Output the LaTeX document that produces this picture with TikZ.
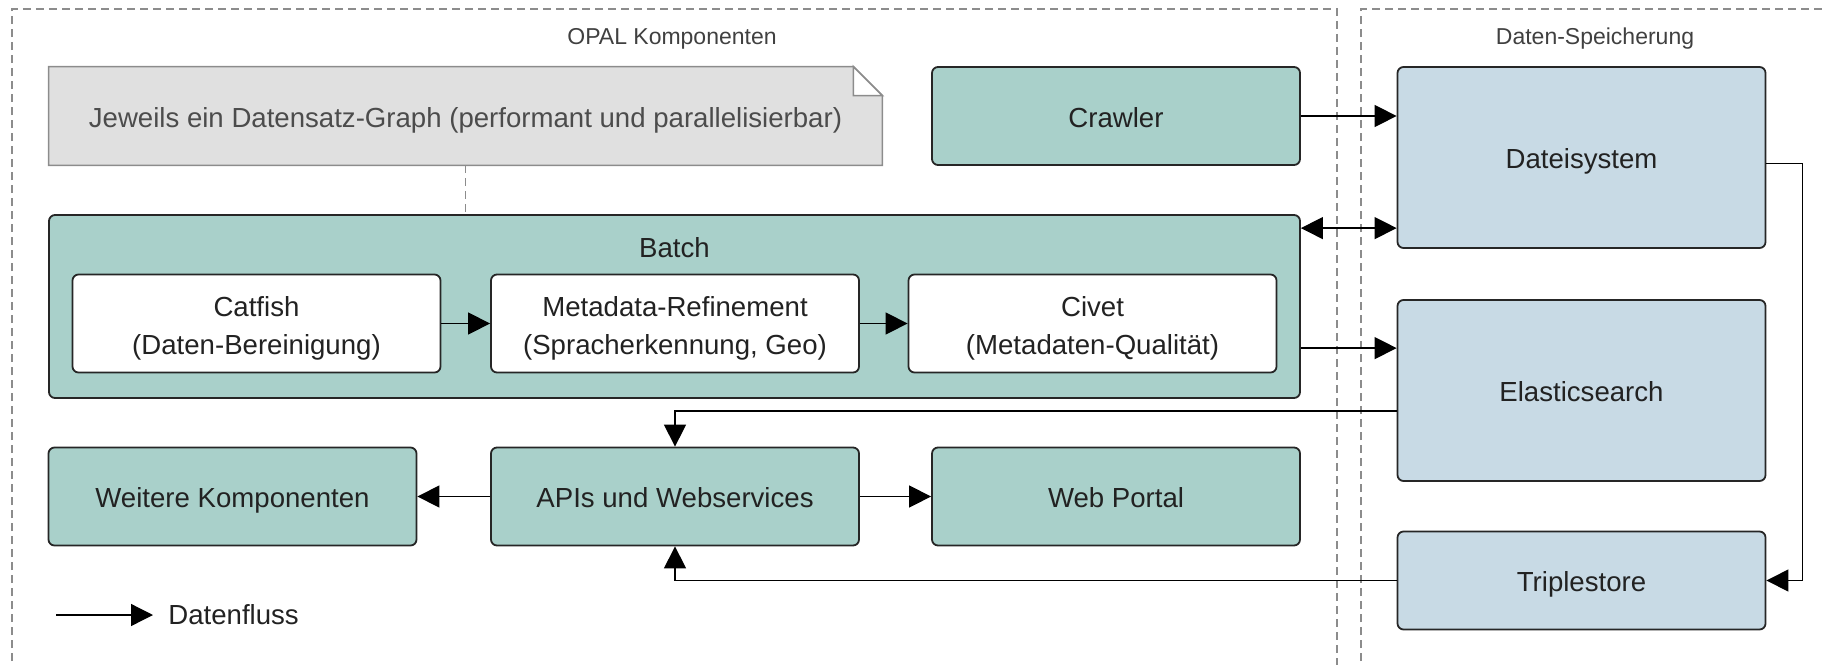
\documentclass[tikz,border=0pt]{standalone}
\usepackage{fontspec}
\setmainfont{Liberation Sans}
\usetikzlibrary{arrows.meta,positioning,calc}
\definecolor{opalgreen}{RGB}{169,208,202}
\definecolor{storeblue}{RGB}{200,218,229}
\definecolor{notegray}{RGB}{224,224,224}
\definecolor{framegray}{RGB}{140,140,140}
\definecolor{textdark}{RGB}{34,34,34}

\begin{document}
\begin{tikzpicture}[x=0.5pt, y=-0.5pt,
    font=\fontsize{13.8}{16.5}\selectfont, text=textdark,
    boxbase/.style={draw=black!85, line width=0.9pt, rounded corners=3pt, minimum width=184pt, minimum height=49pt, align=center},
    comp/.style={boxbase, fill=opalgreen, text height=13pt, text depth=1.6pt},
    store/.style={comp, fill=storeblue},
    sub/.style={boxbase, fill=white, font=\fontsize{13.8}{19}\selectfont, text height=33pt, text depth=1.6pt},
    frame/.style={draw=framegray, line width=0.6pt, dash pattern=on 4pt off 2.5pt},
    title/.style={font=\fontsize{11.5}{14}\selectfont, text=black!75},
    flow/.style={line width=0.65pt, -{Triangle[length=11pt,width=11pt]}}]
    \useasboundingbox (0,0) rectangle (1823,664);

    % Frames
    \draw[frame] (12,700) -- (12,9) -- (1337,9) -- (1337,700);
    \draw[frame] (1361,700) -- (1361,9) -- (1850,9);
    \node[title] (opal) at (672,38.5) {OPAL Komponenten};
    \node[title] (speicher) at (1595,38.5) {Daten-Speicherung};

    % Note
    \node[minimum width=416.5pt, minimum height=49pt] (note) at (465.5,116) {};
    \draw[draw=black!45, line width=0.8pt, fill=notegray] (note.south west) -- (note.north west) -- ($(note.north east)+(-29,0)$) -- ($(note.north east)+(0,29)$) -- (note.south east) -- cycle;
    \draw[draw=black!45, line width=0.8pt, fill=white] ($(note.north east)+(-29,0)$) -- ($(note.north east)+(-29,29)$) -- ($(note.north east)+(0,29)$) -- cycle;
    \node[text=black!70, text height=13pt, text depth=1.6pt] (notetext) at (note) {Jeweils ein Datensatz-Graph (performant und parallelisierbar)};

    % OPAL components
    \node[comp] (crawler) at (1116,116) {Crawler};
    \node[comp, minimum width=625.5pt, minimum height=91.5pt] (batch) at (674.5,306.5) {};
    \node[text height=13pt, text depth=1.6pt] (batchlbl) at (674.5,246) {Batch};
    \node[sub] (catfish) at (256.5,323.5) {Catfish\\(Daten-Bereinigung)};
    \node[sub] (refine) at (675,323.5) {Metadata-Refinement\\(Spracherkennung, Geo)};
    \node[sub] (civet) at (1092.5,323.5) {Civet\\(Metadaten-Qualität)};
    \node[comp] (weitere) at (232.5,496.5) {Weitere Komponenten};
    \node[comp] (apis) at (675,496.5) {APIs und Webservices};
    \node[comp] (portal) at (1116,496.5) {Web Portal};

    % Storage
    \node[store, minimum height=90.5pt] (datei) at (1581.5,157.5) {Dateisystem};
    \node[store, minimum height=90.5pt] (elastic) at (1581.5,390.5) {Elasticsearch};
    \node[store] (triple) at (1581.5,580.5) {Triplestore};

    % Legend
    \coordinate (legstart) at (56,615);
    \node[anchor=west, inner sep=0pt] (legend) at (168,615) {Datenfluss};

    % Connection points
    \coordinate (batchfs) at ($(batch.north east)+(0,14)$);
    \coordinate (batches) at ($(batch.north east)+(0,134)$);
    \coordinate (esout) at ($(elastic.north west)+(0,112)$);
    \coordinate (fsout) at ($(datei.east)+(0,6)$);

    % Connections
    \draw[framegray, line width=0.6pt, dash pattern=on 4pt off 2.5pt] (note.south) -- (note.south |- batch.north);
    \draw[flow] (crawler.east) -- (crawler.east -| datei.west);
    \draw[flow, {Triangle[length=11pt,width=11pt]}-{Triangle[length=11pt,width=11pt]}] (batchfs) -- (batchfs -| datei.west);
    \draw[flow] (batches) -- (batches -| elastic.west);
    \draw[flow] (catfish) -- (refine);
    \draw[flow] (refine) -- (civet);
    \draw[flow] (esout) -| (apis.north);
    \draw[flow] (triple.west) -| (apis.south);
    \draw[flow] (apis) -- (weitere);
    \draw[flow] (apis) -- (portal);
    \draw[flow] (fsout) -- ++(36,0) |- (triple.east);
    \draw[flow] (legstart) -- ($(legend.west)+(-15,0)$);
\end{tikzpicture}
\end{document}
